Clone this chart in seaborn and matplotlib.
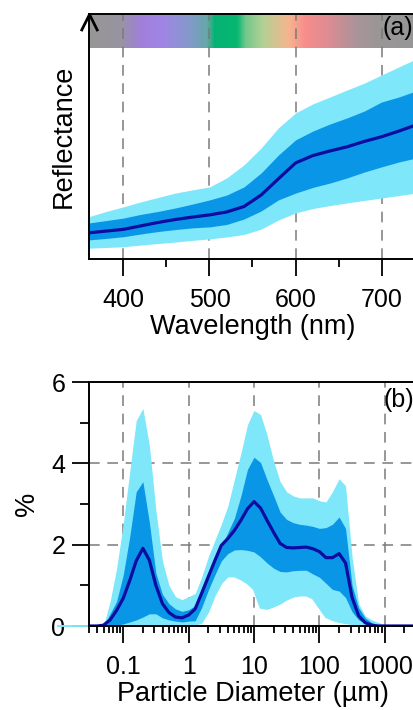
import numpy as np
import pandas as pd
import matplotlib
matplotlib.use("Agg")
import matplotlib.pyplot as plt
import seaborn as sns
from matplotlib.path import Path
from matplotlib.colors import LinearSegmentedColormap
from matplotlib.ticker import FixedLocator, MultipleLocator, LogLocator, NullFormatter, NullLocator

# ---------------- data: panel (a) reflectance ----------------
wavelength = [360, 380, 400, 420, 440, 460, 480, 500, 520, 540, 560, 580,
              600, 620, 640, 660, 680, 700, 720, 740]
refl_mean = [0.107, 0.114, 0.121, 0.135, 0.149, 0.161, 0.171, 0.180, 0.192, 0.214,
             0.261, 0.327, 0.392, 0.422, 0.441, 0.458, 0.480, 0.499, 0.522, 0.547]
refl_dark_hi = [0.147, 0.157, 0.167, 0.182, 0.194, 0.208, 0.224, 0.241, 0.261, 0.294,
                0.351, 0.424, 0.486, 0.522, 0.551, 0.576, 0.604, 0.641, 0.661, 0.686]
refl_dark_lo = [0.078, 0.084, 0.091, 0.102, 0.112, 0.120, 0.127, 0.131, 0.141, 0.163,
                0.196, 0.241, 0.269, 0.292, 0.310, 0.331, 0.355, 0.376, 0.396, 0.412]
refl_light_hi = [0.173, 0.194, 0.213, 0.233, 0.251, 0.269, 0.282, 0.294, 0.331, 0.384,
                 0.453, 0.535, 0.596, 0.633, 0.661, 0.690, 0.718, 0.751, 0.784, 0.816]
refl_light_lo = [0.044, 0.047, 0.050, 0.057, 0.063, 0.069, 0.076, 0.082, 0.090, 0.100,
                 0.122, 0.159, 0.188, 0.206, 0.218, 0.229, 0.239, 0.249, 0.259, 0.269]
wl_ticks = [400, 500, 600, 700]

# ---------------- data: panel (b) particle size distribution ----------------
diameter = [0.01, 0.025, 0.032, 0.040, 0.050, 0.063, 0.079, 0.1, 0.126, 0.158, 0.2,
            0.251, 0.316, 0.398, 0.501, 0.631, 0.794, 1.0, 1.26, 1.58, 2.0, 2.51,
            3.16, 3.98, 5.01, 6.31, 7.94, 10, 12.6, 15.8, 20, 25.1, 31.6, 39.8,
            50.1, 63.1, 79.4, 100, 126, 158, 200, 251, 316, 398, 501, 631, 794,
            1000, 1585, 3000]
psd_light_hi = [0, 0, 0, 0, 0, 0.6, 1.4, 2.5, 3.8, 5.05, 5.35, 4.45, 2.85, 1.6, 1.0,
                0.72, 0.65, 0.72, 0.8, 1.2, 1.7, 2.1, 2.5, 2.95, 3.6, 4.25, 4.95,
                5.3, 5.2, 4.7, 4.05, 3.55, 3.3, 3.2, 3.15, 3.15, 3.15, 3.08, 3.05,
                3.3, 3.62, 3.45, 1.7, 0.55, 0.25, 0.15, 0.09, 0.03, 0, 0]
psd_dark_hi = [0, 0, 0, 0, 0, 0.3, 0.6, 1.25, 2.2, 3.3, 3.55, 2.55, 1.3, 0.78, 0.55,
               0.42, 0.36, 0.4, 0.5, 0.85, 1.21, 1.58, 1.95, 2.3, 2.65, 3.2, 3.85,
               4.15, 4.02, 3.6, 3.2, 2.8, 2.62, 2.54, 2.5, 2.48, 2.45, 2.40, 2.42,
               2.5, 2.68, 2.4, 1.0, 0.45, 0.2, 0.08, 0.02, 0, 0, 0]
psd_mean = [0, 0, 0, 0, 0.02, 0.15, 0.38, 0.68, 1.12, 1.6, 1.91, 1.62, 1.0, 0.55, 0.33,
            0.22, 0.2, 0.27, 0.42, 0.8, 1.21, 1.6, 1.98, 2.15, 2.35, 2.6, 2.88,
            3.06, 2.9, 2.6, 2.3, 2.03, 1.93, 1.92, 1.93, 1.94, 1.9, 1.83, 1.68,
            1.68, 1.78, 1.55, 0.7, 0.25, 0.08, 0.02, 0, 0, 0, 0]
psd_dark_lo = [0, 0, 0, 0, 0, 0, 0.02, 0.05, 0.1, 0.15, 0.22, 0.3, 0.3, 0.2, 0.15,
               0.12, 0.1, 0.12, 0.13, 0.45, 0.88, 1.25, 1.6, 1.78, 1.87, 1.88, 1.86,
               1.82, 1.7, 1.55, 1.42, 1.34, 1.33, 1.36, 1.37, 1.37, 1.28, 1.2, 1.05,
               0.9, 0.86, 0.7, 0.35, 0.15, 0.07, 0.03, 0, 0, 0, 0]
psd_light_lo = [0, 0, 0, 0, 0, 0, 0, 0, 0, 0, 0, 0, 0, 0, 0, 0, 0, 0, 0.03, 0.08,
                0.35, 0.75, 1.05, 1.22, 1.22, 1.15, 1.05, 0.9, 0.45, 0.42, 0.48,
                0.55, 0.65, 0.72, 0.75, 0.75, 0.68, 0.45, 0.22, 0.15, 0.1, 0.07,
                0.05, 0.03, 0, 0, 0, 0, 0, 0]
d_ticks = [0.1, 1, 10, 100, 1000]
d_ticklabels = ["0.1", "1", "10", "100", "1000"]
pct_ticks = [0, 2, 4, 6]

# spectrum band colours (wavelength stop, rgb)
band_stops = [(360, (0.59, 0.59, 0.59)), (395, (0.60, 0.58, 0.63)),
              (420, (0.63, 0.50, 0.86)), (445, (0.63, 0.52, 0.90)),
              (475, (0.52, 0.60, 0.80)), (497, (0.40, 0.66, 0.66)),
              (506, (0.02, 0.70, 0.45)), (532, (0.02, 0.72, 0.45)),
              (542, (0.45, 0.78, 0.55)), (562, (0.70, 0.82, 0.58)),
              (592, (0.96, 0.71, 0.56)), (612, (0.97, 0.55, 0.55)),
              (640, (0.86, 0.55, 0.58)), (672, (0.66, 0.58, 0.60)),
              (700, (0.60, 0.59, 0.59)), (740, (0.59, 0.59, 0.59))]

# ---------------- styling ----------------
sns.set_style("ticks")
plt.rcParams["font.family"] = ["Liberation Sans", "DejaVu Sans"]
for k in ["text.color", "axes.labelcolor", "xtick.color", "ytick.color", "axes.edgecolor"]:
    plt.rcParams[k] = "black"
LIGHT = "#7fe7fa"
DARK = "#0a96e6"
NAVY = "#0c0ca0"
GRID = dict(color="#7a7a7a", linestyle=(0, (7, 5)), linewidth=1.1)
TICK_FS = 18
LAB_FS = 19.5

fig = plt.figure(figsize=(4.14, 7.10), dpi=100)
W, H = 414.0, 710.0
L, R = 89, 416
axa = fig.add_axes([L / W, 1 - 259 / H, (R - L) / W, 245 / H])
axb = fig.add_axes([L / W, 1 - 626 / H, (R - L) / W, 244 / H])

# ---------------- panel (a) ----------------
dfa = pd.DataFrame({"wavelength": wavelength, "mean": refl_mean,
                    "dlo": refl_dark_lo, "dhi": refl_dark_hi,
                    "llo": refl_light_lo, "lhi": refl_light_hi})
xmin_a, xmax_a = 360, 740
band_lo = (259 - 48) / 245.0
pos = [(w - xmin_a) / (xmax_a - xmin_a) for w, _ in band_stops]
cmap = LinearSegmentedColormap.from_list("spec", list(zip(pos, [c for _, c in band_stops])))
grad = np.linspace(0, 1, 600)[None, :]
axa.imshow(grad, cmap=cmap, extent=[xmin_a, xmax_a, band_lo, 1.0], aspect="auto",
           zorder=0, interpolation="bilinear")
for t in wl_ticks:
    axa.axvline(t, zorder=0.5, **GRID)
axa.fill_between(dfa["wavelength"], dfa["llo"], dfa["lhi"], color=LIGHT, lw=0, zorder=1)
axa.fill_between(dfa["wavelength"], dfa["dlo"], dfa["dhi"], color=DARK, lw=0, zorder=1.1)
sns.lineplot(data=dfa, x="wavelength", y="mean", ax=axa, color=NAVY, lw=2.3, zorder=2)
axa.set_xlim(xmin_a, xmax_a)
axa.set_ylim(0, 1)
axa.xaxis.set_major_locator(FixedLocator(wl_ticks))
axa.xaxis.set_minor_locator(MultipleLocator(50))
axa.yaxis.set_major_locator(NullLocator())
axa.yaxis.set_minor_locator(NullLocator())
axa.tick_params(axis="x", which="major", direction="out", length=12, width=1.3,
                labelsize=TICK_FS, pad=9)
axa.tick_params(axis="x", which="minor", direction="out", length=6, width=1.3)
axa.set_xlabel("Wavelength (nm)", fontsize=LAB_FS, labelpad=1)
axa.set_ylabel("Reflectance", fontsize=LAB_FS, labelpad=9)
for s in ["left", "bottom", "top"]:
    axa.spines[s].set_linewidth(1.4)
    axa.spines[s].set_color("black")
axa.spines["right"].set_visible(False)
chevron = Path([(-1, -2), (0, 0), (1, -2)], [Path.MOVETO, Path.LINETO, Path.LINETO])
axa.plot([0], [1], transform=axa.transAxes, marker=chevron, markersize=24,
         mfc="none", mec="black", mew=2.0, clip_on=False, zorder=5, ls="none")
axa.text(0.897, 0.943, "(a)", transform=axa.transAxes, fontsize=TICK_FS,
         ha="left", va="center", zorder=5)

# ---------------- panel (b) ----------------
dfb = pd.DataFrame({"diameter": diameter, "mean": psd_mean,
                    "dlo": psd_dark_lo, "dhi": psd_dark_hi,
                    "llo": psd_light_lo, "lhi": psd_light_hi})
axb.set_xscale("log")
for t in d_ticks:
    axb.axvline(t, zorder=0.5, **GRID)
for t in [2, 4]:
    axb.axhline(t, zorder=0.5, **GRID)
axb.fill_between(dfb["diameter"], dfb["llo"], dfb["lhi"], color=LIGHT, lw=0, zorder=1)
axb.fill_between(dfb["diameter"], dfb["dlo"], dfb["dhi"], color=DARK, lw=0, zorder=1.1)
axb.plot(dfb["diameter"], dfb["llo"], color=LIGHT, lw=1.4, clip_on=False, zorder=1.2)
sns.lineplot(data=dfb, x="diameter", y="mean", ax=axb, color=NAVY, lw=2.3, zorder=2)
axb.set_xlim(0.03, 3000)
axb.set_ylim(0, 6)
axb.xaxis.set_major_locator(FixedLocator(d_ticks))
axb.set_xticklabels(d_ticklabels)
axb.xaxis.set_minor_locator(LogLocator(base=10, subs=np.arange(2, 10), numticks=30))
axb.xaxis.set_minor_formatter(NullFormatter())
axb.yaxis.set_major_locator(FixedLocator(pct_ticks))
axb.yaxis.set_minor_locator(MultipleLocator(1))
axb.tick_params(axis="x", which="major", direction="out", length=12, width=1.3,
                labelsize=TICK_FS, pad=9)
axb.tick_params(axis="x", which="minor", direction="out", length=5, width=1.3)
axb.tick_params(axis="y", which="major", direction="out", length=12, width=1.3,
                labelsize=TICK_FS, pad=5)
axb.tick_params(axis="y", which="minor", direction="out", length=6.5, width=1.3)
axb.set_xlabel("Particle Diameter (\u00b5m)", fontsize=LAB_FS, labelpad=1)
axb.set_ylabel("%", fontsize=LAB_FS, labelpad=8)
for s in ["left", "bottom", "top"]:
    axb.spines[s].set_linewidth(1.4)
    axb.spines[s].set_color("black")
axb.spines["right"].set_visible(False)
axb.text(0.90, 0.926, "(b)", transform=axb.transAxes, fontsize=TICK_FS,
         ha="left", va="center", zorder=5)

fig.savefig("out.png", dpi=100)
